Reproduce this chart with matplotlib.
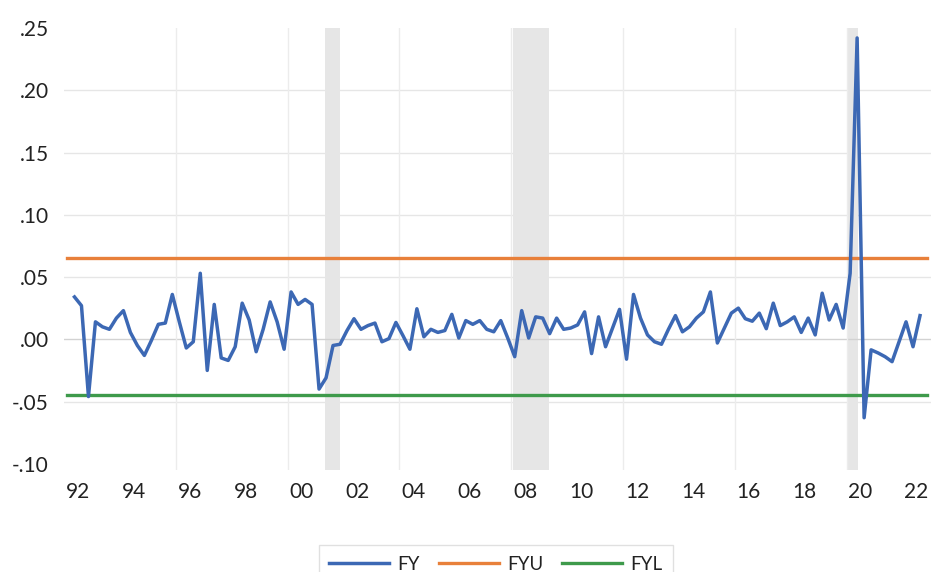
import matplotlib
matplotlib.use('Agg')
import matplotlib.pyplot as plt
import numpy as np

plt.rcParams['font.family'] = ['Lato', 'DejaVu Sans']

# quarterly series, FY starts 1992Q2, limits cover 1992Q1..2022Q4
fy = [0.034, 0.027, -0.046, 0.014, 0.010, 0.008, 0.017, 0.023, 0.0055, -0.005,
      -0.013, -0.001, 0.012, 0.013, 0.036, 0.014, -0.007, -0.002, 0.053, -0.025,
      0.028, -0.015, -0.017, -0.006, 0.029, 0.0155, -0.010, 0.008, 0.030, 0.014,
      -0.008, 0.038, 0.028, 0.032, 0.028, -0.040, -0.031, -0.005, -0.004, 0.007,
      0.0165, 0.008, 0.011, 0.013, -0.002, 0.0005, 0.0135, 0.003, -0.008, 0.0245,
      0.002, 0.008, 0.0055, 0.007, 0.020, 0.001, 0.015, 0.012, 0.015, 0.008,
      0.006, 0.015, 0.001, -0.014, 0.023, 0.001, 0.018, 0.017, 0.0045, 0.017,
      0.008, 0.009, 0.0115, 0.022, -0.0115, 0.018, -0.006, 0.009, 0.024, -0.016,
      0.036, 0.017, 0.0035, -0.002, -0.004, 0.008, 0.019, 0.006, 0.010, 0.017,
      0.022, 0.038, -0.003, 0.009, 0.021, 0.025, 0.0165, 0.0145, 0.021, 0.0085,
      0.029, 0.011, 0.014, 0.018, 0.0055, 0.017, 0.0035, 0.037, 0.0155, 0.028,
      0.009, 0.053, 0.242, -0.063, -0.0085, -0.011, -0.014, -0.018, -0.002, 0.014,
      -0.006, 0.019]
fyu = 0.0651
fyl = -0.0445
recessions = [(2001.33, 2001.88), (2008.05, 2009.36), (2020.05, 2020.40)]
year_labels = ['92', '94', '96', '98', '00', '02', '04', '06', '08', '10',
               '12', '14', '16', '18', '20', '22']
y_ticks = [-0.10, -0.05, 0.00, 0.05, 0.10, 0.15, 0.20, 0.25]
y_labels = ['-.10', '-.05', '.00', '.05', '.10', '.15', '.20', '.25']

n_all = 124
t_all = 1992 + (np.arange(n_all) + 0.5) / 4
t_fy = t_all[1:1 + len(fy)]

fig = plt.figure(figsize=(9.31, 5.72), dpi=100)
ax = fig.add_axes([64 / 931, 1 - 470 / 572, 866.5 / 931, 442 / 572])

for start, end in recessions:
    ax.axvspan(start, end, color='#e6e6e6', lw=0, zorder=0)

for yv in [-0.05, 0.05, 0.10, 0.15, 0.20]:
    ax.axhline(yv, color='#e6e6e6', lw=1.0, zorder=1)
ax.axhline(0, color='#d2d2d2', lw=1.0, zorder=1)
for xv in range(1996, 2021, 4):
    ax.axvline(xv, color='#ececec', lw=1.0, zorder=1)

ax.plot(t_fy, fy, color='#3c68b4', lw=2.5, label='FY', zorder=4)
ax.plot(t_all, np.full(n_all, fyu), color='#e8803a', lw=2.4, label='FYU', zorder=3)
ax.plot(t_all, np.full(n_all, fyl), color='#3e9a4b', lw=2.4, label='FYL', zorder=3)

ax.set_xlim(1992, 2023)
ax.set_ylim(-0.105, 0.25)
ax.set_xticks([1992.5 + 2 * k for k in range(len(year_labels))])
ax.set_xticklabels(year_labels)
ax.set_yticks(y_ticks)
ax.set_yticklabels(y_labels)
ax.tick_params(length=0, labelsize=15, colors='#222222')
ax.tick_params(axis='y', pad=11)
ax.tick_params(axis='x', pad=9)
for s in ax.spines.values():
    s.set_visible(False)

leg = fig.legend(loc='upper center', bbox_to_anchor=(496 / 931, 1 - 536 / 572), ncol=3,
                 frameon=True, fancybox=False, fontsize=13.5, handlelength=3.2,
                 handletextpad=0.45, columnspacing=1.0, borderpad=0.55)
leg.get_frame().set_edgecolor('#d9d9d9')
leg.get_frame().set_linewidth(1.0)
for txt in leg.get_texts():
    txt.set_color('#222222')

fig.savefig('out.png', dpi=100)
